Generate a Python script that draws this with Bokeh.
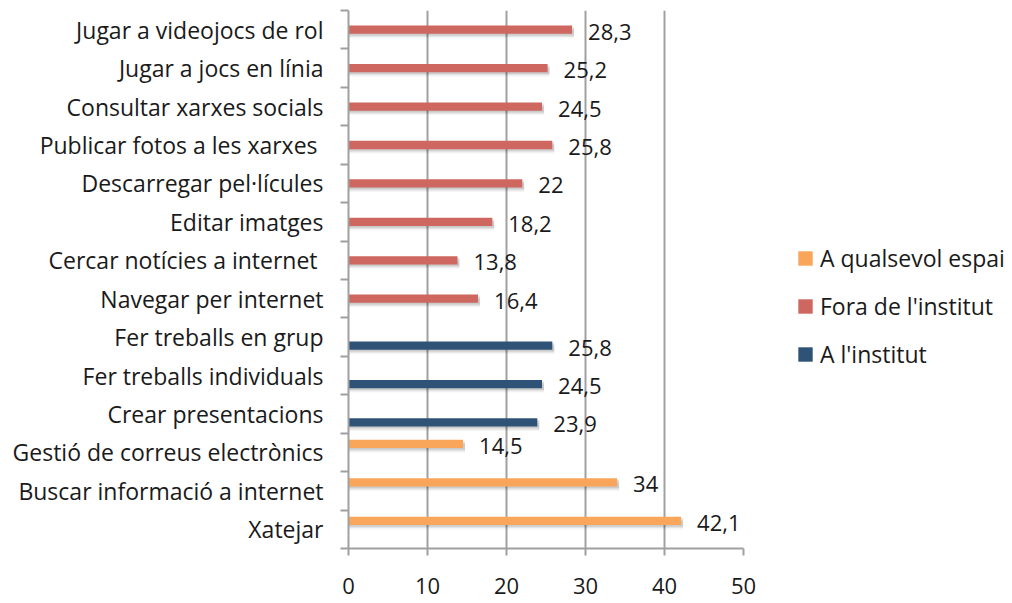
from bokeh.plotting import figure
from bokeh.models import (ColumnDataSource, FixedTicker, Legend, LegendItem,
                          Range1d, LabelSet)
from bokeh.core.properties import value
from bokeh.embed import file_html
from bokeh.resources import INLINE

# Categories from top to bottom
categories = [
    "Jugar a videojocs de rol",
    "Jugar a jocs en línia",
    "Consultar xarxes socials",
    "Publicar fotos a les xarxes ",
    "Descarregar pel·lícules",
    "Editar imatges",
    "Cercar notícies  a internet",
    "Navegar per internet",
    "Fer treballs en grup",
    "Fer treballs individuals",
    "Crear presentacions",
    "Gestió de correus electrònics",
    "Buscar informació a internet",
    "Xatejar",
]

# Series: (category, value)
qualsevol_cats = ["Gestió de correus electrònics", "Buscar informació a internet", "Xatejar"]
qualsevol_vals = [14.5, 34, 42.1]

fora_cats = categories[:8]
fora_vals = [28.3, 25.2, 24.5, 25.8, 22, 18.2, 13.8, 16.4]

institut_cats = ["Fer treballs en grup", "Fer treballs individuals", "Crear presentacions"]
institut_vals = [25.8, 24.5, 23.9]

x_ticks = [0, 10, 20, 30, 40, 50]

series = [
    ("A qualsevol espai", qualsevol_cats, qualsevol_vals, "#F9A65A", 0.22),
    ("Fora de l'institut", fora_cats, fora_vals, "#CE675F", 0.0),
    ("A l'institut", institut_cats, institut_vals, "#2E5376", -0.22),
]

n = len(categories)
center = {c: n - 0.5 - i for i, c in enumerate(categories)}

FONT = "Open Sans"
FS_CAT = "23px"
FS_NUM = "22px"
TEXT = "#1a1a1a"
GRID = "#a0a0a0"

p = figure(width=1012, height=603, output_backend="svg", toolbar_location=None,
           x_range=Range1d(0, 50), y_range=Range1d(0, n),
           min_border_left=348, min_border_right=269,
           min_border_top=10, min_border_bottom=55,
           frame_width=395, frame_height=538)
p.outline_line_color = None
p.background_fill_color = "white"
p.border_fill_color = "white"

# vertical gridlines
p.xgrid.ticker = FixedTicker(ticks=x_ticks[1:])
p.xgrid.grid_line_color = GRID
p.xgrid.grid_line_width = 2
p.ygrid.grid_line_color = None

# x axis
xa = p.xaxis[0]
xa.ticker = FixedTicker(ticks=x_ticks)
xa.axis_line_color = GRID
xa.axis_line_width = 2
xa.major_tick_line_color = GRID
xa.major_tick_line_width = 2
xa.major_tick_in = 0
xa.major_tick_out = 7
xa.minor_tick_line_color = None
xa.major_label_standoff = 22
xa.major_label_text_font = FONT
xa.major_label_text_font_size = FS_NUM
xa.major_label_text_color = TEXT

# y axis: labels at category centres, ticks on category boundaries
ya = p.yaxis[0]
centers = [center[c] for c in categories]
ya.ticker = FixedTicker(ticks=centers, minor_ticks=list(range(n + 1)))
ya.major_label_overrides = {center[c]: c for c in categories}
ya.axis_line_color = GRID
ya.axis_line_width = 2
ya.major_tick_line_color = None
ya.major_tick_in = 0
ya.major_tick_out = 0
ya.minor_tick_line_color = GRID
ya.minor_tick_line_width = 2
ya.minor_tick_in = 0
ya.minor_tick_out = 8
ya.major_label_standoff = 17
ya.major_label_text_font = FONT
ya.major_label_text_font_size = FS_CAT
ya.major_label_text_color = TEXT

bar_h = 0.215
items = []
for name, cats, vals, color, off in series:
    ys = [center[c] + off for c in cats]
    labels = [f"{v:g}".replace(".", ",") for v in vals]
    # soft drop shadow
    for k, a in ((0.045, 0.10), (0.08, 0.07), (0.115, 0.04)):
        p.hbar(y=[y - k for y in ys], left=0, right=[v + 0.25 for v in vals],
               height=bar_h, fill_color="black", fill_alpha=a, line_color=None)
    src = ColumnDataSource(dict(y=ys, v=vals, lab=labels))
    r = p.hbar(y="y", left=0, right="v", height=bar_h, source=src,
               fill_color=color, line_color=None)
    items.append(LegendItem(label=name, renderers=[r]))
    p.add_layout(LabelSet(x="v", y="y", text="lab", source=src, x_offset=16, y_offset=-2,
                          text_align="left", text_baseline="middle",
                          text_font=value(FONT), text_font_size=FS_NUM, text_color=TEXT))

legend = Legend(items=items, location=(53, 178), orientation="vertical",
                glyph_width=18, glyph_height=18, label_height=20,
                label_text_font=FONT, label_text_font_size=FS_CAT,
                label_text_color=TEXT, label_standoff=6, spacing=16,
                padding=0, margin=0, border_line_color=None,
                background_fill_alpha=0)
p.add_layout(legend, "right")

open("out.html", "w").write(file_html(p, INLINE))
